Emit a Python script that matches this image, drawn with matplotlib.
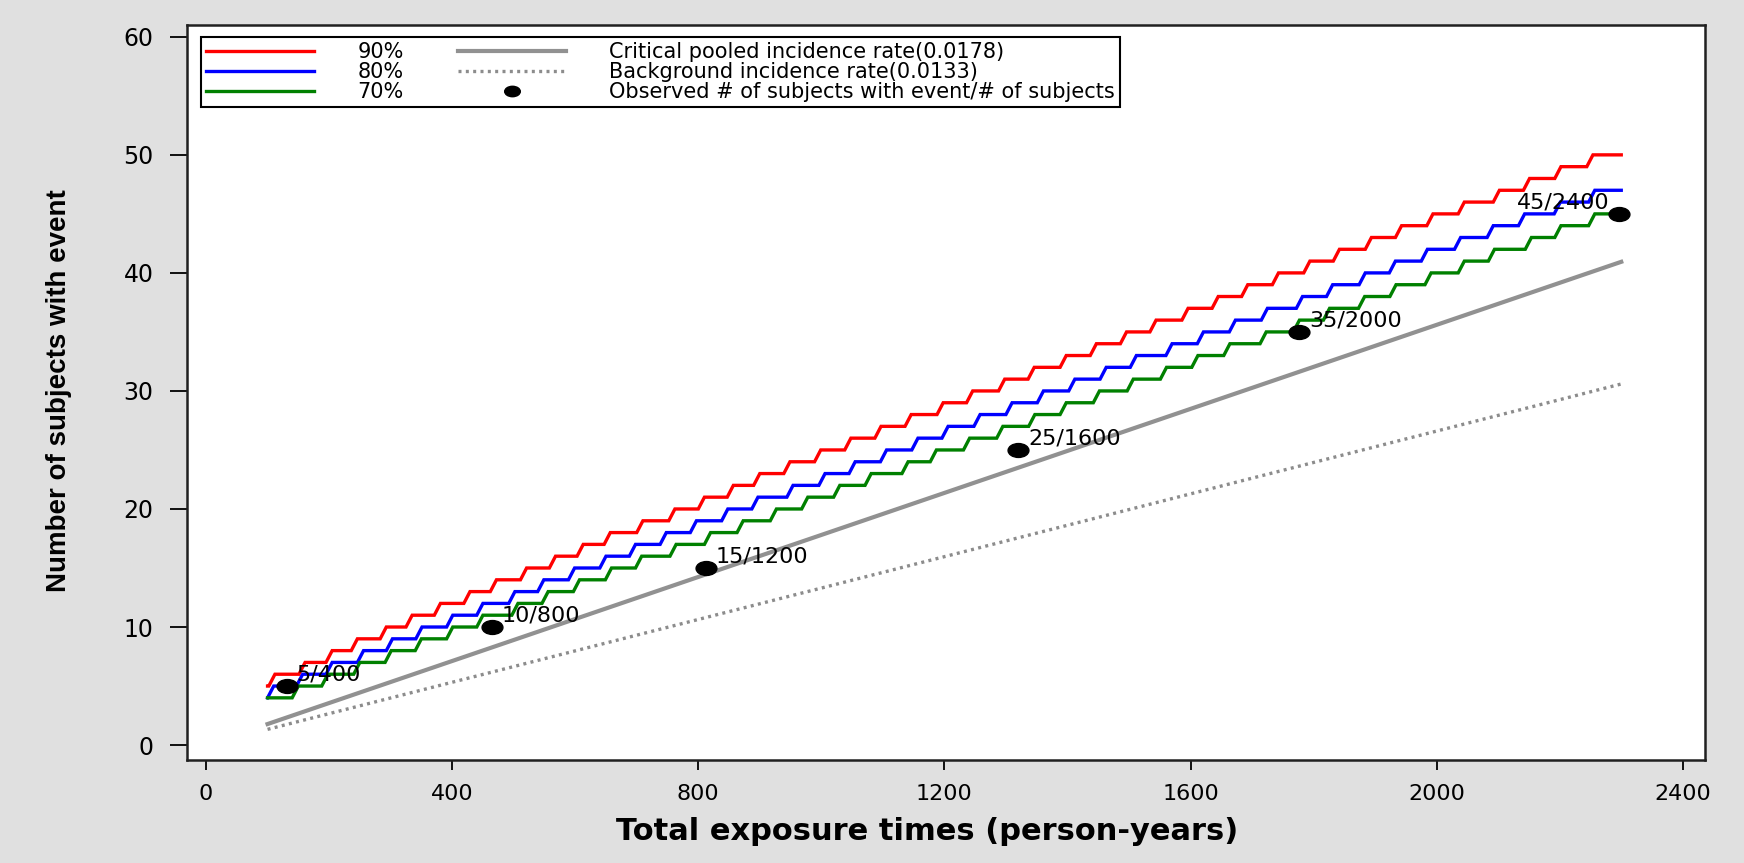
import matplotlib
matplotlib.use("Agg")
import matplotlib.pyplot as plt
from matplotlib.path import Path
from matplotlib.transforms import Affine2D
from matplotlib.markers import MarkerStyle

# ---------------- data ----------------
x_start, x_end = 100, 2300

# x positions (person-years) where each curve steps up to the given count
red_start = 5
red_steps_x = [107, 156, 200, 241, 288, 330, 376, 424, 467, 516, 563, 608, 652, 705,
               757, 805, 852, 895, 944, 994, 1043, 1092, 1141, 1193, 1241, 1293, 1341,
               1393, 1442, 1491, 1539, 1591, 1640, 1688, 1738, 1789, 1837, 1889, 1938,
               1989, 2040, 2097, 2146, 2197, 2249]
red_steps_v = list(range(6, 51))

blue_start = 4
blue_steps_x = [105, 152, 200, 251, 298, 346, 396, 445, 497, 544, 594, 645, 693, 743,
                792, 843, 892, 949, 1001, 1050, 1101, 1152, 1201, 1253, 1305, 1356,
                1407, 1458, 1507, 1565, 1616, 1668, 1720, 1777, 1826, 1879, 1928, 1980,
                2034, 2087, 2138, 2196, 2252]
blue_steps_v = list(range(5, 48))

green_start = 4
green_steps_x = [145, 193, 245, 296, 345, 396, 445, 502, 551, 602, 654, 703, 759, 815,
                 868, 922, 973, 1025, 1076, 1136, 1182, 1236, 1290, 1342, 1393, 1447,
                 1502, 1556, 1607, 1659, 1718, 1772, 1821, 1878, 1929, 1986, 2040, 2089,
                 2149, 2197, 2252]
green_steps_v = list(range(5, 46))

crit_rate = 0.0178
bg_rate = 0.0133
rate_x = [100, 2300]
crit_y = [1.78, 40.94]
bg_y = [1.33, 30.59]

obs_x = [131, 465, 813, 1320, 1777, 2296]
obs_y = [5, 10, 15, 25, 35, 45]
obs_labels = ["5/400", "10/800", "15/1200", "25/1600", "35/2000", "45/2400"]

x_ticks = [0, 400, 800, 1200, 1600, 2000, 2400]
y_ticks = [0, 10, 20, 30, 40, 50, 60]

legend_labels = ["90%", "80%", "70%",
                 "Critical pooled incidence rate(0.0178)",
                 "Background incidence rate(0.0133)",
                 "Observed # of subjects with event/# of subjects"]


def staircase(start_v, steps_x, steps_v, half=5):
    xs, ys = [x_start], [start_v]
    prev = start_v
    for t, v in zip(steps_x, steps_v):
        xs += [max(t - half, x_start), t + half]
        ys += [prev, v]
        prev = v
    xs.append(x_end)
    ys.append(prev)
    return xs, ys


# ---------------- figure ----------------
fig = plt.figure(figsize=(17.44, 8.63), dpi=100, facecolor="#e0e0e0")
ax = fig.add_axes([0.1072, 0.1193, 0.8704, 0.8517])
ax.set_facecolor("white")

rx, ry = staircase(red_start, red_steps_x, red_steps_v)
bx, by = staircase(blue_start, blue_steps_x, blue_steps_v)
gx, gy = staircase(green_start, green_steps_x, green_steps_v)

h_red, = ax.plot(rx, ry, color="#ff0000", lw=2.4, solid_joinstyle="miter")
h_blue, = ax.plot(bx, by, color="#0000ff", lw=2.4, solid_joinstyle="miter")
h_green, = ax.plot(gx, gy, color="#008000", lw=2.4, solid_joinstyle="miter")
h_crit, = ax.plot(rate_x, crit_y, color="#919191", lw=3.0)
h_bg, = ax.plot(rate_x, bg_y, color="#8c8c8c", lw=2.4, linestyle=(0, (0.9, 1.3)))

ell = Path.unit_circle().transformed(Affine2D().scale(1.5, 1.0))
marker = MarkerStyle(ell)
h_obs, = ax.plot(obs_x, obs_y, linestyle="none", marker=marker, markersize=15,
                 color="black", zorder=5)

for i, (x, y, lab) in enumerate(zip(obs_x, obs_y, obs_labels)):
    if i == len(obs_x) - 1:
        ax.annotate(lab, (x, y), xytext=(-7, 8), textcoords="offset points",
                    ha="right", va="center", fontsize=16, family="DejaVu Sans")
    else:
        ax.annotate(lab, (x, y), xytext=(7, 8), textcoords="offset points",
                    ha="left", va="center", fontsize=16, family="DejaVu Sans")

ax.set_xlim(-31, 2436)
ax.set_ylim(-1.27, 61.0)
ax.set_xticks(x_ticks)
ax.set_yticks(y_ticks)
ax.set_xticklabels([str(v) for v in x_ticks], fontsize=16, family="DejaVu Sans")
ax.set_yticklabels([str(v) for v in y_ticks], fontsize=17, family="DejaVu Sans")
ax.tick_params(axis="x", direction="out", length=7.5, width=1.3, pad=10, colors="black")
ax.tick_params(axis="y", direction="out", length=12, width=1.3, pad=12, colors="black")
for sp in ax.spines.values():
    sp.set_linewidth(1.8)
    sp.set_color("#202020")

ax.set_xlabel("Total exposure times (person-years)", fontsize=22, fontweight="bold",
              family="DejaVu Sans")
ax.xaxis.set_label_coords(0.4875, -0.078)
ax.set_ylabel("Number of subjects with event", fontsize=20, fontweight="bold",
              family=["Liberation Sans Narrow", "DejaVu Sans Condensed", "Liberation Sans"])
ax.yaxis.set_label_coords(-0.0758, 0.503)

leg = ax.legend([h_red, h_blue, h_green, h_crit, h_bg, h_obs], legend_labels,
                ncol=2, loc="upper left", bbox_to_anchor=(0.0092, 0.9837),
                borderaxespad=0, frameon=True, fancybox=False, framealpha=1,
                edgecolor="black", prop={"family": "DejaVu Sans", "size": 15},
                handlelength=5.2, handletextpad=2.05, columnspacing=2.6,
                labelspacing=0.0, borderpad=0.25, markerscale=0.75)
leg.get_frame().set_linewidth(1.5)

fig.savefig("out.png", dpi=100, facecolor=fig.get_facecolor())
